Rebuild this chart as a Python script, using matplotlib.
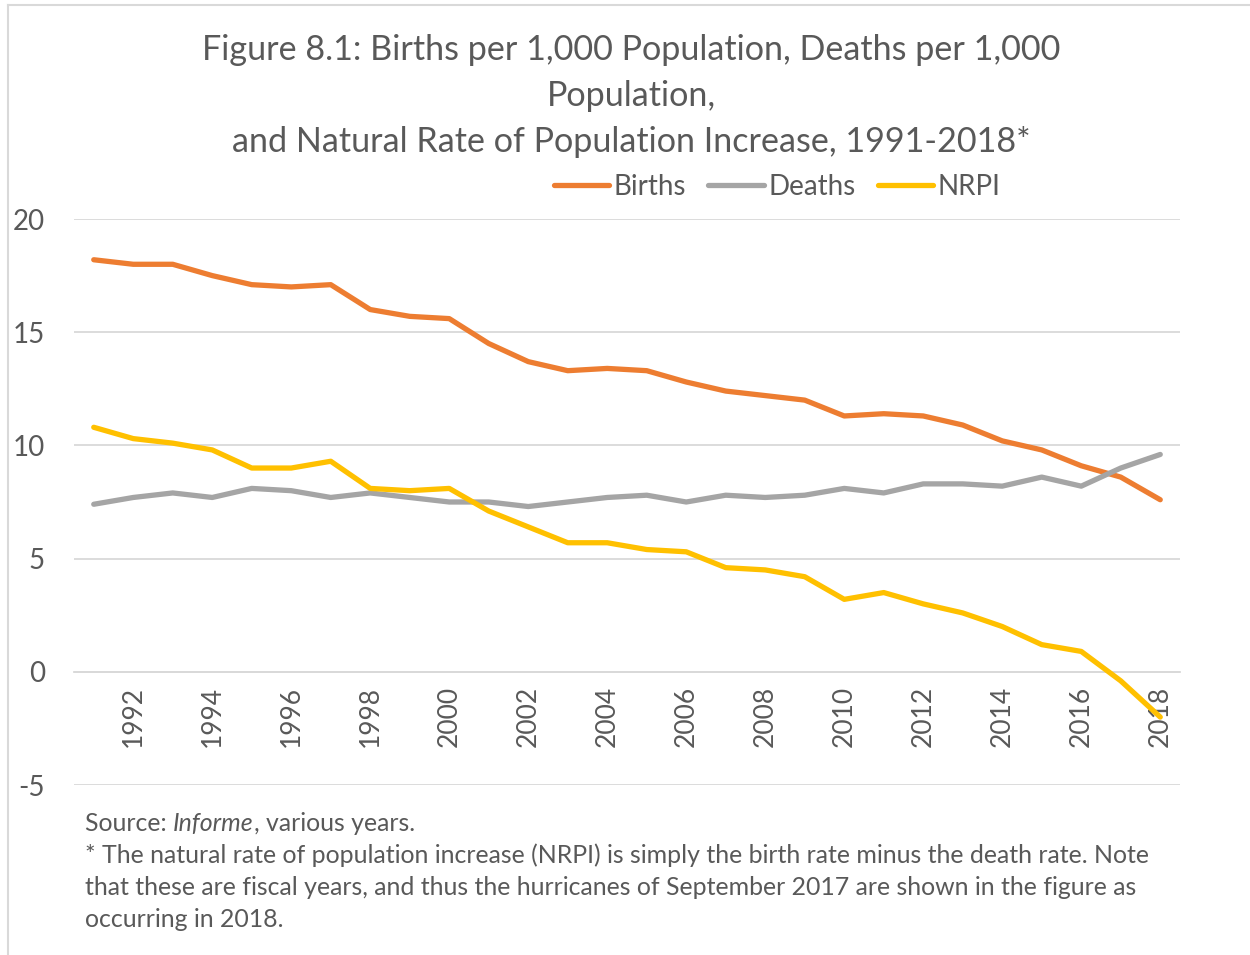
import matplotlib
matplotlib.use("Agg")
import matplotlib.pyplot as plt
from matplotlib.lines import Line2D

plt.rcParams['font.family'] = ['Lato', 'DejaVu Sans']

years = list(range(1991, 2019))
births = [18.2, 18.0, 18.0, 17.5, 17.1, 17.0, 17.1, 16.0, 15.7, 15.6, 14.5, 13.7, 13.3, 13.4,
          13.3, 12.8, 12.4, 12.2, 12.0, 11.3, 11.4, 11.3, 10.9, 10.2, 9.8, 9.1, 8.6, 7.6]
deaths = [7.4, 7.7, 7.9, 7.7, 8.1, 8.0, 7.7, 7.9, 7.7, 7.5, 7.5, 7.3, 7.5, 7.7,
          7.8, 7.5, 7.8, 7.7, 7.8, 8.1, 7.9, 8.3, 8.3, 8.2, 8.6, 8.2, 9.0, 9.6]
nrpi = [10.8, 10.3, 10.1, 9.8, 9.0, 9.0, 9.3, 8.1, 8.0, 8.1, 7.1, 6.4, 5.7, 5.7,
        5.4, 5.3, 4.6, 4.5, 4.2, 3.2, 3.5, 3.0, 2.6, 2.0, 1.2, 0.9, -0.4, -2.0]
series_names = ["Births", "Deaths", "NRPI"]
colors = ["#ED7D31", "#A5A5A5", "#FFC000"]
yticks = [-5, 0, 5, 10, 15, 20]
xtick_years = list(range(1992, 2019, 2))

TXT = "#595959"
GRID = "#D9D9D9"
W, H = 1250, 955
fig = plt.figure(figsize=(W / 100, H / 100), dpi=100)

def fx(px):
    return px / W

def fy(py):
    return 1 - py / H

ax = fig.add_axes([fx(74), fy(785), fx(1180 - 74), (785 - 219) / H])
for vals, c in zip([births, deaths, nrpi], colors):
    ax.plot(years, vals, color=c, lw=3.8, solid_capstyle='round', solid_joinstyle='round', zorder=3)

ax.set_xlim(1990.5, 2018.5)
ax.set_ylim(-5, 20)
ax.set_yticks(yticks)
ax.set_yticklabels([str(v) for v in yticks], fontsize=20, color=TXT)
ax.yaxis.grid(True, color=GRID, lw=1.3)
ax.set_axisbelow(True)
for s in ['top', 'right', 'left']:
    ax.spines[s].set_visible(False)
ax.spines['bottom'].set_position(('data', 0))
ax.spines['bottom'].set_color(GRID)
ax.spines['bottom'].set_linewidth(1.3)
ax.set_xticks(xtick_years)
ax.set_xticklabels([str(y) for y in xtick_years], rotation=90, fontsize=19, color=TXT)
ax.tick_params(axis='x', length=0, pad=10)
ax.tick_params(axis='y', length=0, pad=21)

# title
fig.text(fx(631), fy(96), "Figure 8.1: Births per 1,000 Population, Deaths per 1,000\nPopulation,\n"
         "and Natural Rate of Population Increase, 1991-2018*",
         ha='center', va='center', fontsize=24.6, color=TXT, linespacing=1.55)

# legend
handles = [Line2D([0], [0], color=c, lw=3.8, solid_capstyle='round') for c in colors]
fig.legend(handles, series_names, loc='center', bbox_to_anchor=(fx(777), fy(187)), ncol=3,
           frameon=False, fontsize=20, labelcolor=TXT, handlelength=2.0, handletextpad=0.15,
           columnspacing=0.8)

# footnote
fig.canvas.draw()
r = fig.canvas.get_renderer()
fs = 17.9
x0 = fx(85)
t1 = fig.text(x0, fy(823), "Source: ", fontsize=fs, color=TXT, va='center')
bb = t1.get_window_extent(r)
t2 = fig.text(bb.x1 / W, fy(823), "Informe", fontsize=fs, color=TXT, va='center', style='italic')
bb = t2.get_window_extent(r)
fig.text(bb.x1 / W, fy(823), ", various years.", fontsize=fs, color=TXT, va='center')
notes = ["* The natural rate of population increase (NRPI) is simply the birth rate minus the death rate. Note",
         "that these are fiscal years, and thus the hurricanes of September 2017 are shown in the figure as",
         "occurring in 2018."]
for i, line in enumerate(notes):
    fig.text(x0, fy(855 + 32 * i), line, fontsize=fs, color=TXT, va='center')

# chart border (left and top visible)
fig.add_artist(Line2D([fx(7.5), fx(7.5)], [0, fy(5.5)], color=GRID, lw=1.5))
fig.add_artist(Line2D([fx(7.5), 1], [fy(5.5), fy(5.5)], color=GRID, lw=1.5))

fig.savefig("out.png", dpi=100)
